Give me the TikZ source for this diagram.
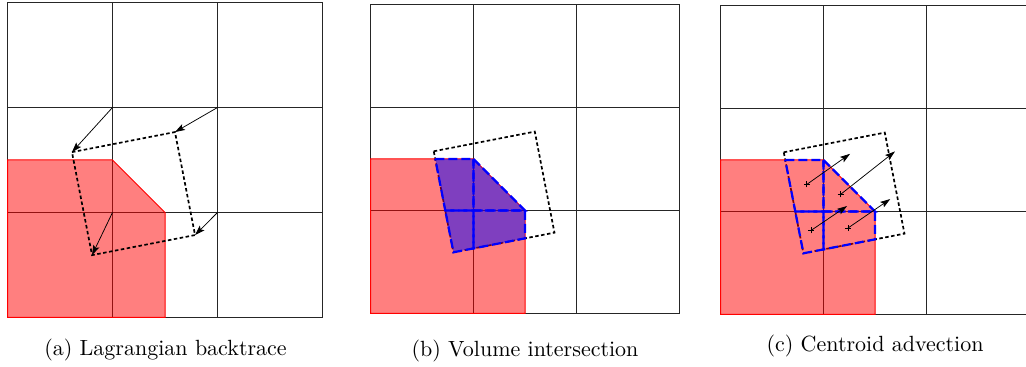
\documentclass[tikz,border=0pt]{standalone}
\usetikzlibrary{arrows.meta}
\font\capfnt="[lmroman10-regular]:mapping=tex-text" at 22pt
\begin{document}
\begin{tikzpicture}[x=1pt,y=1pt,
  gridline/.style={line width=1.6pt, black!85},
  redregion/.style={draw=red, line width=1pt, fill=red, fill opacity=0.5},
  quadline/.style={black, line width=1.7pt, dash pattern=on 3.5pt off 2.5pt},
  bluepiece/.style={draw=blue, line width=2.2pt, dash pattern=on 9pt off 4pt},
  bluefill/.style={fill=blue, fill opacity=0.5},
  vecarrow/.style={-{Stealth[length=10pt,width=6.5pt,inset=2pt]}, line width=0.75pt, black},
  centmark/.style={line width=0.6pt, black},
  captext/.style={font=\capfnt, anchor=base, inner sep=0pt}]
\useasboundingbox (0,0) rectangle (1026,367);

\newcommand{\cellgrid}{%
  \foreach \i in {0,1,2,3} {
    \draw[gridline] (\i,0) -- (\i,3);
    \draw[gridline] (0,\i) -- (3,\i);
  }}
\newcommand{\keypoints}[1]{%
  \coordinate (#1g12) at (1,2);
  \coordinate (#1g22) at (2,2);
  \coordinate (#1g21) at (2,1);
  \coordinate (#1g11) at (1,1);
  \coordinate (#1q1) at (0.614,1.575);
  \coordinate (#1q2) at (1.595,1.766);
  \coordinate (#1q3) at (1.786,0.785);
  \coordinate (#1q4) at (0.805,0.594);
  \coordinate (#1r1) at (0,0);
  \coordinate (#1r2) at (0,1.5);
  \coordinate (#1r3) at (1,1.5);
  \coordinate (#1r4) at (1.5,1);
  \coordinate (#1r5) at (1.5,0);
  \coordinate (#1b1) at (0.6286,1.5);
  \coordinate (#1b2) at (0.726,1);
  \coordinate (#1b3) at (1,0.632);
  \coordinate (#1b4) at (1.5,0.7293);
  \coordinate (#1b5) at (1,1.5);
  \coordinate (#1b6) at (1,1);
  \coordinate (#1b7) at (1.5,1);}
\newcommand{\quadpath}[1]{\draw[quadline] (#1q1) -- (#1q2) -- (#1q3) -- (#1q4) -- cycle;}
\newcommand{\redpath}[1]{\path[redregion] (#1r1) -- (#1r2) -- (#1r3) -- (#1r4) -- (#1r5) -- cycle;}
\newcommand{\bluepieces}[1]{%
  \draw[bluepiece] (#1b1) -- (#1b5) -- (#1b6) -- (#1b2) -- cycle;
  \draw[bluepiece] (#1b5) -- (#1b7) -- (#1b6) -- cycle;
  \draw[bluepiece] (#1b2) -- (#1b6) -- (#1b3) -- (#1q4) -- cycle;
  \draw[bluepiece] (#1b6) -- (#1b7) -- (#1b4) -- (#1b3) -- cycle;}

% ---------- (a) ----------
\begin{scope}[shift={(7.5pt,49.5pt)}, x=105pt, y=105pt]
  \cellgrid
  \keypoints{a}
  \redpath{a}
  \quadpath{a}
  \draw[vecarrow] (ag12) -- (aq1);
  \draw[vecarrow] (ag22) -- (aq2);
  \draw[vecarrow] (ag21) -- (aq3);
  \draw[vecarrow] (ag11) -- (aq4);
\end{scope}

% ---------- (b) ----------
\begin{scope}[shift={(370.5pt,53.5pt)}, x=103pt, y=103pt]
  \cellgrid
  \keypoints{b}
  \quadpath{b}
  \redpath{b}
  \path[bluefill] (bb1) -- (bb5) -- (bb7) -- (bb4) -- (bq4) -- cycle;
  \bluepieces{b}
\end{scope}

% ---------- (c) ----------
\begin{scope}[shift={(720.5pt,52.5pt)}, x=103pt, y=103pt]
  \cellgrid
  \keypoints{c}
  \quadpath{c}
  \redpath{c}
  \bluepieces{c}
  \coordinate (cc1) at (0.8374,1.2626);
  \coordinate (cc2) at (1.1667,1.1667);
  \coordinate (cc3) at (0.8795,0.8166);
  \coordinate (cc4) at (1.2373,0.8391);
  \coordinate (ct1) at (1.258,1.560);
  \coordinate (ct2) at (1.694,1.583);
  \coordinate (ct3) at (1.229,1.053);
  \coordinate (ct4) at (1.648,1.121);
  \foreach \k in {1,2,3,4} {
    \draw[centmark] (cc\k) ++(-3pt,0) -- ++(6pt,0);
    \draw[centmark] (cc\k) ++(0,-3pt) -- ++(0,6pt);
    \draw[vecarrow] (cc\k) -- (ct\k);
  }
\end{scope}

% ---------- captions ----------
\node[captext] (capa) at (165.5,12) {(a) Lagrangian backtrace};
\node[captext] (capb) at (525,10) {(b) Volume intersection};
\node[captext] (capc) at (875,15) {(c) Centroid advection};
\end{tikzpicture}
\end{document}
